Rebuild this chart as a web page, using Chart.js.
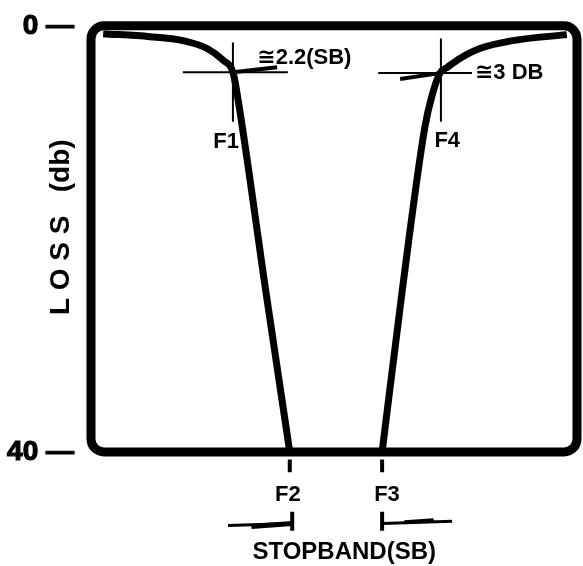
<!DOCTYPE html>
<html>
<head>
<meta charset="utf-8">
<script src="https://cdn.jsdelivr.net/npm/chart.js@4"></script>
<style>
  html, body { margin: 0; padding: 0; background: #fff; }
  #wrap { width: 583px; height: 566px; position: relative; }
</style>
</head>
<body>
<div id="wrap"><canvas id="chart"></canvas></div>
<script>
/* 대역저지 필터 감쇠 곡선 (LOSS vs 주파수) */

// 주파수 축은 임의 단위 (0 ~ 100)
const lowerFreq = [2.5, 12.1, 18.9, 23.9, 27.2, 29.2, 30.0, 36.0, 40.9];
const lowerLoss = [0.74, 1.02, 1.39, 2.13, 3.24, 4.35, 6.2, 25.0, 40];

const upperFreq = [59.9, 64.0, 68.7, 70.2, 71.8, 73.3, 75.9, 80.0, 86.8, 97.9];
const upperLoss = [40, 25.0, 9.5, 6.5, 4.44, 3.9, 3.06, 2.13, 1.39, 0.83];

const lossTicks = [0, 40];

// 주석 선분 (F1/F4 십자선, 지시선, F2/F3 눈금, 저지대역 화살표)
const f1CrossH = [[18.9, 4.35], [40.5, 4.35]];
const f1CrossV = [[29.2, 1.57], [29.2, 9.0]];
const f1Pointer = [[29.2, 4.35], [38.3, 3.9]];
const f4CrossH = [[59.1, 4.44], [78.4, 4.44]];
const f4CrossV = [[72.0, 1.2], [72.0, 9.0]];
const f4Pointer = [[63.6, 5.0], [71.8, 4.44]];
const f2Tick = [[40.9, 40.7], [40.9, 41.9]];
const f3Tick = [[59.9, 40.7], [59.9, 41.9]];
const sbLeftLine = [[28.2, 46.9], [41.4, 46.7]];
const sbLeftWedge = [[33.0, 47.0], [41.4, 46.7]];
const sbLeftBar = [[41.4, 45.6], [41.4, 47.4]];
const sbRightLine = [[59.9, 46.7], [74.3, 46.5]];
const sbRightWedge = [[64.5, 46.6], [70.5, 46.4]];
const sbRightBar = [[59.9, 45.6], [59.9, 47.4]];

// 텍스트 주석
const noteText = ['F1', 'F4', 'F2', 'F3', 'STOPBAND(SB)', '\u22452.2(SB)', '\u22453 DB'];
const noteFreq = [27.8, 73.3, 40.5, 60.9, 52.1, 34.2, 79.0];
const noteLoss = [10.9, 10.8, 44.0, 44.0, 49.4, 3.0, 4.44];

const FONT = "'Liberation Sans', Arial, 'DejaVu Sans', sans-serif";

function pts(xs, ys) {
  return xs.map((x, i) => ({ x: x, y: ys[i] }));
}
function seg(p, width) {
  return {
    data: p.map(q => ({ x: q[0], y: q[1] })),
    borderColor: '#000',
    borderWidth: width,
    pointRadius: 0,
    tension: 0,
    clip: false,
  };
}

/* 둥근 모서리 테두리 */
const framePlugin = {
  id: 'frame',
  beforeDatasetsDraw(chart) {
    const { ctx, chartArea: a } = chart;
    ctx.save();
    ctx.lineWidth = 9;
    ctx.strokeStyle = '#000';
    ctx.beginPath();
    ctx.roundRect(a.left, a.top, a.right - a.left, a.bottom - a.top, 13);
    ctx.stroke();
    ctx.restore();
  }
};

/* 라벨 */
const notePlugin = {
  id: 'notes',
  afterDatasetsDraw(chart) {
    const { ctx, scales } = chart;
    ctx.save();
    ctx.fillStyle = '#000';
    ctx.textBaseline = 'middle';
    noteText.forEach((t, i) => {
      const x = scales.x.getPixelForValue(noteFreq[i]);
      const y = scales.y.getPixelForValue(noteLoss[i]);
      const left = t.startsWith('\u2245');
      ctx.textAlign = left ? 'left' : 'center';
      ctx.font = 'bold ' + (t === 'STOPBAND(SB)' ? 24 : 22) + 'px ' + FONT;
      ctx.fillText(t, x, y);
    });
    ctx.restore();
  }
};

new Chart(document.getElementById('chart'), {
  type: 'line',
  data: {
    datasets: [
      {
        data: pts(lowerFreq, lowerLoss),
        borderColor: '#000',
        borderWidth: 7,
        pointRadius: 0,
        cubicInterpolationMode: 'monotone',
        clip: false,
      },
      {
        data: pts(upperFreq, upperLoss),
        borderColor: '#000',
        borderWidth: 7,
        pointRadius: 0,
        cubicInterpolationMode: 'monotone',
        clip: false,
      },
      seg(f1CrossH, 2), seg(f1CrossV, 2), seg(f1Pointer, 4),
      seg(f4CrossH, 2), seg(f4CrossV, 2), seg(f4Pointer, 4),
      seg(f2Tick, 4), seg(f3Tick, 4),
      seg(sbLeftLine, 3), seg(sbLeftWedge, 5), seg(sbLeftBar, 4),
      seg(sbRightLine, 3), seg(sbRightWedge, 4), seg(sbRightBar, 4),
    ]
  },
  options: {
    responsive: true,
    maintainAspectRatio: false,
    animation: false,
    layout: { padding: { top: 20, right: 6, bottom: 114, left: 0 } },
    plugins: { legend: { display: false }, tooltip: { enabled: false } },
    scales: {
      x: { type: 'linear', min: 0, max: 100, display: false },
      y: {
        type: 'linear',
        min: 0,
        max: 40,
        reverse: true,
        afterBuildTicks: (scale) => { scale.ticks = lossTicks.map(v => ({ value: v })); },
        afterFit: (scale) => { scale.width = 91; },
        grid: { display: false },
        border: { display: false },
        ticks: {
          color: '#000',
          padding: 9,
          textStrokeColor: '#000',
          textStrokeWidth: 1.2,
          font: { family: FONT, size: 28, weight: 'bold' },
          callback: (v) => v + ' \u2014',
        },
        title: {
          display: true,
          text: '   L O S S   (db)',
          color: '#000',
          padding: { top: 44, bottom: 0 },
          font: { family: FONT, size: 28, weight: 'bold' },
        },
      },
    },
  },
  plugins: [framePlugin, notePlugin],
});
</script>
</body>
</html>
